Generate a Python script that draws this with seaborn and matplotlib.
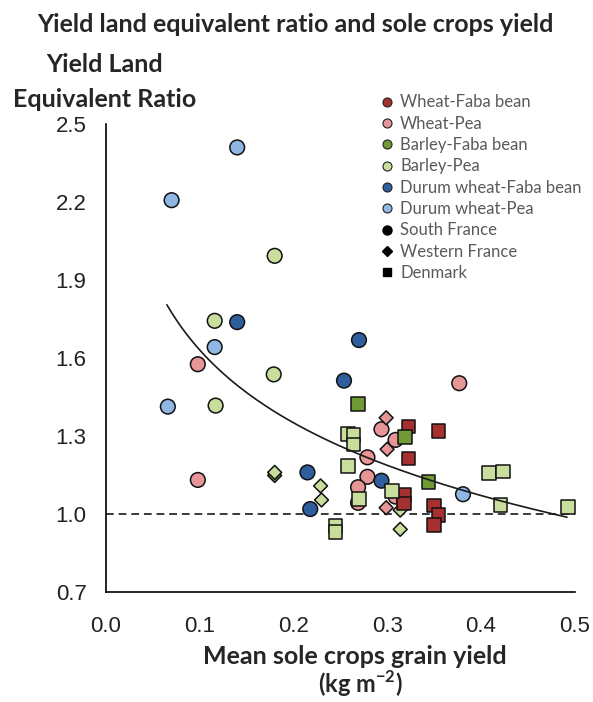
import numpy as np
import pandas as pd
import matplotlib
matplotlib.use("Agg")
import matplotlib.pyplot as plt
from matplotlib.lines import Line2D
import seaborn as sns

# ---- data -------------------------------------------------------------
crop_order = ["Wheat-Faba bean", "Wheat-Pea", "Barley-Faba bean", "Barley-Pea",
              "Durum wheat-Faba bean", "Durum wheat-Pea"]
site_order = ["South France", "Western France", "Denmark"]

crop_colors = ["#a5302f", "#e79597", "#6f9a34", "#c9de9c", "#2f5e9c", "#8fb6e4"]
site_markers = {"South France": "o", "Western France": "D", "Denmark": "s"}
site_sizes = {"South France": 112, "Western France": 50, "Denmark": 96}

# South France (circles)
sf_crop = (["Wheat-Pea"] * 10 + ["Barley-Pea"] * 4 +
           ["Durum wheat-Faba bean"] * 6 + ["Durum wheat-Pea"] * 5)
sf_yield = [0.098, 0.098, 0.377, 0.294, 0.309, 0.279, 0.279, 0.269, 0.309, 0.269,
            0.180, 0.116, 0.179, 0.117,
            0.140, 0.254, 0.270, 0.215, 0.218, 0.294,
            0.140, 0.070, 0.116, 0.066, 0.381]
sf_ler = [1.576, 1.131, 1.503, 1.326, 1.285, 1.218, 1.143, 1.103, 1.067, 1.043,
          1.993, 1.743, 1.537, 1.417,
          1.738, 1.513, 1.669, 1.160, 1.019, 1.128,
          2.410, 2.207, 1.642, 1.413, 1.076]

# Western France (diamonds)
wf_crop = ["Wheat-Pea"] * 3 + ["Barley-Faba bean"] + ["Barley-Pea"] * 5
wf_yield = [0.299, 0.300, 0.299, 0.180, 0.180, 0.229, 0.230, 0.314, 0.314]
wf_ler = [1.370, 1.249, 1.024, 1.148, 1.160, 1.108, 1.054, 1.015, 0.941]

# Denmark (squares)
dk_crop = ["Wheat-Faba bean"] * 8 + ["Barley-Faba bean"] * 3 + ["Barley-Pea"] * 12
dk_yield = [0.323, 0.355, 0.323, 0.318, 0.318, 0.350, 0.355, 0.350,
            0.269, 0.319, 0.344,
            0.2585, 0.264, 0.264, 0.258, 0.245, 0.245, 0.270, 0.305,
            0.409, 0.424, 0.421, 0.493]
dk_ler = [1.336, 1.319, 1.214, 1.073, 1.040, 1.032, 0.996, 0.958,
          1.422, 1.295, 1.122,
          1.307, 1.304, 1.268, 1.185, 0.955, 0.930, 1.058, 1.088,
          1.157, 1.163, 1.035, 1.028]

# logarithmic trend: LER = a + b * ln(yield)
trend_intercept = 0.7015
trend_slope = -0.4036
trend_range = (0.065, 0.492)

x_ticks = [0.0, 0.1, 0.2, 0.3, 0.4, 0.5]
y_ticks = [0.7, 1.0, 1.3, 1.6, 1.9, 2.2, 2.5]

# ---- tidy table ---------------------------------------------------------
df = pd.concat([
    pd.DataFrame({"crop": sf_crop, "site": "South France", "yield": sf_yield, "ler": sf_ler}),
    pd.DataFrame({"crop": wf_crop, "site": "Western France", "yield": wf_yield, "ler": wf_ler}),
    pd.DataFrame({"crop": dk_crop, "site": "Denmark", "yield": dk_yield, "ler": dk_ler}),
], ignore_index=True)

# ---- figure -------------------------------------------------------------
sns.set_style("white")
plt.rcParams["font.family"] = ["Liberation Sans", "DejaVu Sans"]
plt.rcParams["mathtext.fontset"] = "custom"
plt.rcParams["mathtext.rm"] = "Lato"
plt.rcParams["mathtext.bf"] = "Lato:bold"

W, H = 593, 702
fig = plt.figure(figsize=(W / 100, H / 100), dpi=100)
ax = fig.add_axes([106 / W, 1 - 592 / H, 468.5 / W, 468 / H])

palette = dict(zip(crop_order, crop_colors))

# reference line at LER = 1
ax.axhline(1.0, color="#3a3a3a", lw=1.4, dashes=(4, 2.5), zorder=1)

for site in site_order:
    sub = df[df["site"] == site]
    sns.scatterplot(data=sub, x="yield", y="ler", hue="crop", hue_order=crop_order,
                    palette=palette, marker=site_markers[site], s=site_sizes[site],
                    edgecolor="#111111", linewidth=1.1, legend=False, ax=ax,
                    zorder=3, clip_on=False)

xs = np.linspace(trend_range[0], trend_range[1], 200)
ax.plot(xs, trend_intercept + trend_slope * np.log(xs), color="#1a1a1a", lw=1.2, zorder=5)

ax.set_xlim(0, 0.5)
ax.set_ylim(0.7, 2.5)
ax.set_xticks(x_ticks)
ax.set_yticks(y_ticks)
ax.set_xticklabels([f"{v:.1f}" for v in x_ticks])
ax.set_yticklabels([f"{v:.1f}" for v in y_ticks])
ax.set_xlabel("")
ax.set_ylabel("")
for side in ["top", "right"]:
    ax.spines[side].set_visible(False)
for side in ["left", "bottom"]:
    ax.spines[side].set_color("black")
    ax.spines[side].set_linewidth(1.2)
ax.tick_params(axis="both", which="major", direction="out", length=5, width=1.2,
               color="black", labelsize=16, labelcolor="#222222")
ax.tick_params(axis="y", pad=9)
ax.tick_params(axis="x", pad=12)

# titles
fig.text(295 / W, 1 - 25 / H, "Yield land equivalent ratio and sole crops yield",
         ha="center", va="center", fontsize=18, fontweight="bold", family="Lato")
fig.text(105 / W, 1 - 82 / H, "Yield Land\nEquivalent Ratio", ha="center", va="center",
         fontsize=18, fontweight="bold", family="Lato", linespacing=1.6)
fig.text(355 / W, 1 - 656 / H, "Mean sole crops grain yield", ha="center", va="center",
         fontsize=18, fontweight="bold", family="Lato")
fig.text(360 / W, 1 - 684 / H, r"(kg m$^{\mathbf{-2}}$)", ha="center", va="center",
         fontsize=17, fontweight="bold", family="Lato")

# legend
handles = [Line2D([], [], ls="none", marker="o", markersize=6.5, markerfacecolor=c,
                  markeredgecolor="#222222", markeredgewidth=0.8) for c in crop_colors]
handles += [Line2D([], [], ls="none", marker=site_markers[s],
                   markersize={"o": 6.5, "D": 4.8, "s": 6.2}[site_markers[s]],
                   markerfacecolor="black", markeredgecolor="black") for s in site_order]
labels = crop_order + site_order
leg = fig.legend(handles, labels, loc="upper left", bbox_to_anchor=(371 / W, 1 - 86 / H),
                 frameon=False, borderpad=0, handlelength=0.9, handletextpad=0.35,
                 labelspacing=0.32, prop={"family": "Lato", "size": 12})
for t in leg.get_texts():
    t.set_color("#5a5a5a")

fig.savefig("out.png", dpi=100)
